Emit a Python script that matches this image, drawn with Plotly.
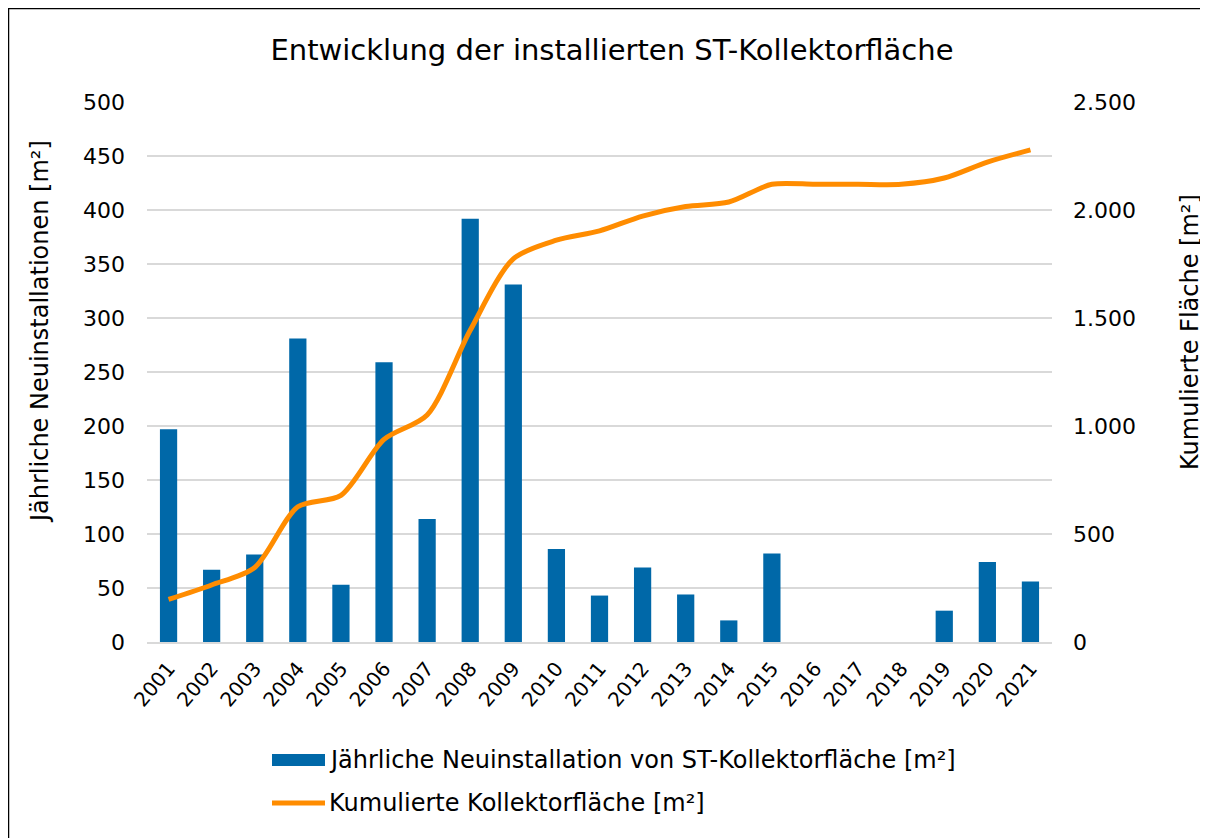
import plotly.graph_objects as go

years = [str(y) for y in range(2001, 2022)]
annual = [197, 67, 81, 281, 53, 259, 114, 392, 331, 86, 43, 69, 44, 20, 82, 0, 0, 0, 29, 74, 56]
cumulative = [197, 264, 345, 626, 679, 938, 1051, 1443, 1774, 1860, 1903, 1972, 2016, 2037,
              2119, 2119, 2119, 2119, 2148, 2222, 2278]

title_text = "Entwicklung der installierten ST-Kollektorfläche"
bar_name = "Jährliche Neuinstallation von ST-Kollektorfläche [m²]"
line_name = "Kumulierte Kollektorfläche [m²]"
y1_title = "Jährliche Neuinstallationen [m²]"
y2_title = "Kumulierte Fläche [m²]"

W, H = 1208, 838
L, R, T, B = 139, 164, 94, 204
pw, ph = W - L - R, H - T - B

FONT = "DejaVu Sans, sans-serif"
BLUE = "#0068A8"
ORANGE = "#FF8C00"
GRID = "#D9D9D9"


def px(fx):
    return (fx - L) / pw


def py(fy):
    return (H - B - fy) / ph


fig = go.Figure()
fig.add_trace(go.Bar(x=years, y=annual, name=bar_name, marker=dict(color=BLUE, line=dict(width=0)),
                     yaxis="y", showlegend=False))
fig.add_trace(go.Scatter(x=years, y=cumulative, name=line_name, mode="lines",
                         line=dict(color=ORANGE, width=5, shape="spline", smoothing=0.8),
                         yaxis="y2", showlegend=False))

# manual legend (wide symbols as in the reference)
leg_x0, leg_x1, leg_tx = 264, 317, 319
leg_y1, leg_y2 = 752, 795
shapes = [
    dict(type="rect", xref="paper", yref="paper", x0=px(leg_x0), x1=px(leg_x1),
         y0=py(leg_y1 + 6), y1=py(leg_y1 - 6), fillcolor=BLUE, line=dict(width=0)),
    dict(type="line", xref="paper", yref="paper", x0=px(leg_x0), x1=px(leg_x1),
         y0=py(leg_y2), y1=py(leg_y2), line=dict(color=ORANGE, width=5)),
    dict(type="rect", xref="paper", yref="paper",
         x0=px(0.5), x1=px(W - 0.5), y0=py(H - 0.5), y1=py(0.5),
         line=dict(color="black", width=1.5), fillcolor="rgba(0,0,0,0)", layer="above"),
]
annotations = [
    dict(text=bar_name, xref="paper", yref="paper", x=px(leg_tx), y=py(leg_y1),
         xanchor="left", yanchor="middle", showarrow=False, font=dict(size=24, family=FONT)),
    dict(text=line_name, xref="paper", yref="paper", x=px(leg_tx), y=py(leg_y2),
         xanchor="left", yanchor="middle", showarrow=False, font=dict(size=24, family=FONT)),
    # axis titles (placed like the reference, centred on the chart area)
    dict(text=y1_title, xref="paper", yref="paper", x=px(32), y=py(324), textangle=-90,
         xanchor="center", yanchor="middle", showarrow=False, font=dict(size=24, family=FONT)),
    dict(text=y2_title, xref="paper", yref="paper", x=px(1182), y=py(324), textangle=-90,
         xanchor="center", yanchor="middle", showarrow=False, font=dict(size=24, family=FONT)),
]

fig.update_layout(
    width=W, height=H,
    margin=dict(l=L, r=R, t=T, b=B, autoexpand=False),
    paper_bgcolor="white", plot_bgcolor="white",
    separators=",.",
    font=dict(family=FONT, color="#000000", size=21),
    title=dict(text=title_text, x=0.5, xanchor="center", y=1 - 42 / H, yanchor="middle",
               font=dict(size=29, family=FONT, color="#000000")),
    bargap=0.6,
    xaxis=dict(type="category", tickangle=-50, tickfont=dict(size=20), showgrid=False,
               showline=True, linecolor=GRID, linewidth=1.5, ticks="", ticklabelstandoff=5),
    yaxis=dict(range=[0, 500], dtick=50, showgrid=True, gridcolor=GRID, gridwidth=1.5,
               zeroline=False, showline=False, ticks="", tickfont=dict(size=22),
               ticklabelstandoff=21),
    yaxis2=dict(range=[0, 2500], dtick=500, overlaying="y", side="right", showgrid=False,
                zeroline=False, showline=False, ticks="", separatethousands=True,
                tickfont=dict(size=22), ticklabelstandoff=20),
    showlegend=False,
    shapes=shapes,
    annotations=annotations,
)

fig.write_html("out.html", post_script=(
    "document.body.style.overflow='hidden';"
    "document.documentElement.style.overflow='hidden';"))
